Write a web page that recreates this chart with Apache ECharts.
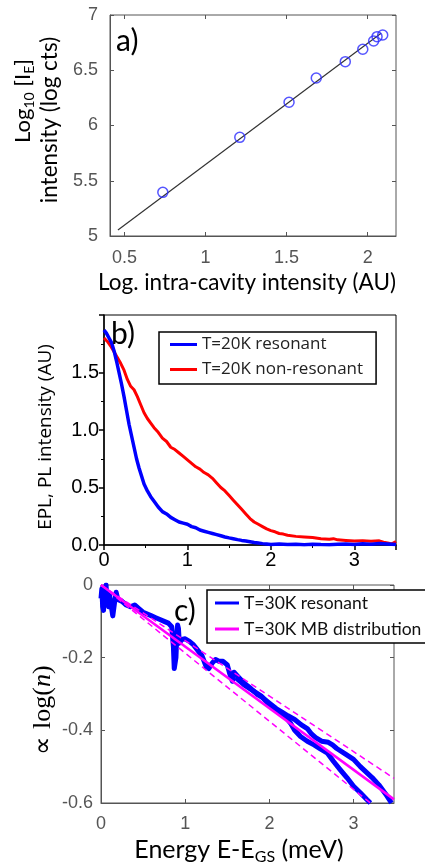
<!DOCTYPE html>
<html><head><meta charset="utf-8">
<script src="https://cdn.jsdelivr.net/npm/echarts@6/dist/echarts.min.js"></script>
<style>html,body{margin:0;padding:0;background:#fff}#c{width:425px;height:863px}</style>
</head><body><div id="c"></div>
<script>
// ---- Panel a data ----
const aX = [0.736, 1.211, 1.515, 1.683, 1.862, 1.970, 2.037, 2.058, 2.093];
const aY = [5.395, 5.893, 6.21, 6.43, 6.578, 6.69, 6.765, 6.804, 6.819];
const aFitX = [0.459, 2.083];
const aFitY = [5.054, 6.834];
const aXTicks = [0.5, 1, 1.5, 2];

// ---- Panel b data ----
const bBlueX = [0,0.03,0.06,0.09,0.12,0.15,0.18,0.21,0.24,0.27,0.3,0.33,0.36,0.39,0.42,0.45,0.48,0.52,0.56,0.6,0.65,0.7,0.75,0.8,0.85,0.9,0.95,1.0,1.05,1.1,1.15,1.2,1.25,1.3,1.35,1.4,1.45,1.5,1.55,1.6,1.65,1.7,1.75,1.8,1.85,1.9,1.95,2.0,2.1,2.2,2.3,2.4,2.5,2.6,2.7,2.8,2.9,3.0,3.1,3.2,3.3,3.4,3.5];
const bBlueY = [1.87,1.84,1.8,1.76,1.69,1.6,1.5,1.4,1.29,1.17,1.05,0.95,0.85,0.75,0.67,0.6,0.53,0.47,0.42,0.38,0.33,0.29,0.27,0.24,0.22,0.2,0.19,0.18,0.16,0.15,0.13,0.12,0.11,0.1,0.09,0.08,0.07,0.062,0.055,0.047,0.04,0.035,0.029,0.022,0.017,0.012,0.009,0.005,0.008,0.004,0.007,0.003,0.006,0.004,0.003,0.006,0.008,0.005,0.01,0.007,0.012,0.008,0.004];
const bRedX = [0,0.04,0.08,0.12,0.16,0.2,0.24,0.28,0.32,0.36,0.4,0.44,0.48,0.52,0.56,0.6,0.65,0.7,0.75,0.8,0.85,0.9,0.95,1.0,1.05,1.1,1.15,1.2,1.25,1.3,1.35,1.4,1.45,1.5,1.55,1.6,1.65,1.7,1.75,1.8,1.85,1.9,1.95,2.0,2.05,2.1,2.15,2.2,2.3,2.4,2.5,2.6,2.7,2.75,2.8,2.9,3.0,3.1,3.2,3.3,3.35,3.4,3.45,3.5];
const bRedY = [1.8,1.77,1.73,1.68,1.63,1.58,1.52,1.44,1.38,1.35,1.29,1.22,1.15,1.1,1.06,1.02,0.98,0.93,0.9,0.85,0.83,0.8,0.77,0.74,0.71,0.68,0.66,0.63,0.61,0.58,0.54,0.5,0.47,0.43,0.39,0.35,0.31,0.27,0.23,0.2,0.18,0.16,0.14,0.125,0.115,0.1,0.095,0.085,0.075,0.07,0.065,0.055,0.05,0.055,0.045,0.04,0.035,0.038,0.032,0.036,0.025,0.018,0.01,0.03];

// ---- Panel c data ----
const cBlue1X = [0,0.01,0.02,0.03,0.04,0.06,0.07,0.09,0.1,0.12,0.14,0.15,0.16,0.18,0.2,0.25,0.3,0.35,0.4,0.45,0.5,0.55,0.6,0.65,0.7,0.75,0.8,0.84,0.86,0.87,0.88,0.89,0.9,0.91,0.92,0.93,0.96,1.0,1.05,1.1,1.15,1.2,1.25,1.28,1.32,1.36,1.4,1.45,1.5,1.53,1.56,1.58,1.62,1.7,1.78,1.85,1.92,2.0,2.08,2.15,2.22,2.3,2.38,2.45,2.5,2.55,2.62,2.7,2.75,2.8,2.9,3.0,3.08,3.15,3.22,3.3,3.38,3.45];
const cBlue1Y = [-0.037,-0.01,-0.06,-0.07,-0.02,0,-0.04,-0.06,-0.025,-0.03,-0.085,-0.09,-0.05,-0.02,-0.04,-0.045,-0.055,-0.06,-0.055,-0.065,-0.075,-0.08,-0.085,-0.09,-0.095,-0.1,-0.105,-0.115,-0.17,-0.23,-0.235,-0.2,-0.14,-0.11,-0.12,-0.16,-0.15,-0.148,-0.155,-0.165,-0.18,-0.195,-0.225,-0.23,-0.215,-0.205,-0.21,-0.21,-0.22,-0.245,-0.265,-0.24,-0.25,-0.27,-0.285,-0.3,-0.31,-0.325,-0.34,-0.35,-0.36,-0.37,-0.385,-0.395,-0.41,-0.42,-0.43,-0.433,-0.44,-0.45,-0.465,-0.48,-0.5,-0.515,-0.53,-0.55,-0.575,-0.6];
const cBlue2X = [1.6,1.7,1.8,1.9,2.0,2.1,2.18,2.25,2.3,2.37,2.45,2.53,2.6,2.69,2.76,2.84,2.92,3.0,3.08,3.16,3.2];
const cBlue2Y = [-0.255,-0.275,-0.29,-0.305,-0.33,-0.35,-0.36,-0.38,-0.4,-0.417,-0.43,-0.44,-0.45,-0.463,-0.485,-0.508,-0.53,-0.554,-0.572,-0.591,-0.6];
const cMBX = [0, 3.48];
const cMBY = [0, -0.59];
const cUpX = [0, 3.48];
const cUpY = [0, -0.532];
const cLoX = [0, 3.2];
const cLoY = [0, -0.6];
const cXTicks = [0, 1, 2, 3];

const pairs = (xs, ys) => xs.map((x, i) => [x, ys[i]]);

const gray = '#555';
const tickFont = 'Liberation Sans';

function matlabX(grid, min, max, ticks, pos, labels) {
  return {
    type: 'value', gridIndex: grid, min: min, max: max, position: pos,
    axisLine: { show: labels, onZero: false, lineStyle: { color: gray, width: 1 } },
    axisTick: { show: true, inside: true, length: 4, customValues: ticks, lineStyle: { color: gray } },
    axisLabel: { show: labels, customValues: ticks, margin: 12, fontSize: 18, color: gray, fontFamily: tickFont },
    splitLine: { show: false }
  };
}
function matlabY(grid, min, max, interval, pos, labels, margin) {
  return {
    type: 'value', gridIndex: grid, min: min, max: max, interval: interval, position: pos,
    axisLine: { show: labels, onZero: false, lineStyle: { color: gray, width: 1 } },
    axisTick: { show: true, inside: true, length: 4, lineStyle: { color: gray } },
    axisLabel: { show: labels, margin: margin, fontSize: 18, color: gray, fontFamily: tickFont },
    splitLine: { show: false }
  };
}

const xA0 = matlabX(0, 0.41, 2.175, aXTicks, 'bottom', true); xA0.axisLabel.margin = 13;
const xA1 = matlabX(0, 0.41, 2.175, aXTicks, 'top', false);
const yA0 = matlabY(0, 5, 7, 0.5, 'left', true, 12);
const yA1 = matlabY(0, 5, 7, 0.5, 'right', false, 12);

const xB = {
  type: 'value', gridIndex: 1, min: 0, max: 3.5, interval: 1, position: 'bottom',
  axisLine: { onZero: false, lineStyle: { color: '#000', width: 1.5 } },
  axisTick: { length: 5, lineStyle: { color: '#000', width: 1.5 } },
  minorTick: { show: true, splitNumber: 2, length: 3, lineStyle: { color: '#000', width: 1 } },
  axisLabel: { showMaxLabel: false, margin: 5, fontSize: 20, color: '#000', fontFamily: tickFont },
  splitLine: { show: false }, minorSplitLine: { show: false }
};
const yB = {
  type: 'value', gridIndex: 1, min: 0, max: 2, interval: 0.5, position: 'left',
  axisLine: { show: true, onZero: false, lineStyle: { color: '#000', width: 1.5 } },
  axisTick: { show: true, length: 5, lineStyle: { color: '#000', width: 1.5 } },
  minorTick: { show: true, splitNumber: 2, length: 3, lineStyle: { color: '#000', width: 1 } },
  axisLabel: { showMaxLabel: false, margin: 5, fontSize: 20, color: '#000', fontFamily: tickFont, formatter: v => v.toFixed(1) },
  splitLine: { show: false }, minorSplitLine: { show: false }
};

const xC0 = matlabX(2, 0, 3.48, cXTicks, 'bottom', true);
const xC1 = matlabX(2, 0, 3.48, cXTicks, 'top', false);
const yC0 = matlabY(2, -0.6, 0, 0.2, 'left', true, 8);
const yC1 = matlabY(2, -0.6, 0, 0.2, 'right', false, 8);

const calibri = 'Lato';

const option = {
  animation: false,
  backgroundColor: '#fff',
  grid: [
    { left: 110, top: 15, width: 286, height: 221, show: true, borderColor: gray, borderWidth: 1, backgroundColor: 'transparent' },
    { left: 104, top: 315, width: 292, height: 230, show: true, borderColor: '#000', borderWidth: 1, backgroundColor: 'transparent' },
    { left: 101, top: 585, width: 293, height: 218, show: true, borderColor: gray, borderWidth: 1, backgroundColor: 'transparent' }
  ],
  xAxis: [xA0, xA1, xB, xC0, xC1],
  yAxis: [yA0, yA1, yB, yC0, yC1],
  legend: [
    {
      data: ['T=20K resonant', 'T=20K non-resonant'],
      left: 159, top: 332, orient: 'vertical', icon: 'rect', itemWidth: 27, itemHeight: 3, itemGap: 8,
      padding: [4, 13, 6, 11], borderColor: '#000', borderWidth: 1.5, backgroundColor: '#fff',
      textStyle: { fontFamily: 'Open Sans', fontSize: 17, color: '#222' }
    },
    {
      data: ['T=30K resonant', 'T=30K MB distribution'],
      left: 207, top: 590, orient: 'vertical', icon: 'rect', itemWidth: 24, itemHeight: 3, itemGap: 8,
      padding: [4, 30, 5, 8], borderColor: '#000', borderWidth: 1.5, backgroundColor: '#fff',
      textStyle: { fontFamily: calibri, fontSize: 17.5, color: '#111' }
    }
  ],
  series: [
    { name: 'fit', type: 'line', xAxisIndex: 0, yAxisIndex: 0, data: pairs(aFitX, aFitY), symbol: 'none',
      lineStyle: { color: '#333', width: 1.2 }, itemStyle: { color: '#333' } },
    { name: 'data a', type: 'scatter', xAxisIndex: 0, yAxisIndex: 0, data: pairs(aX, aY), symbol: 'circle', symbolSize: 10,
      itemStyle: { color: 'rgba(0,0,0,0)', borderColor: '#2a2aff', borderWidth: 1.5 }, z: 4 },

    { name: 'T=20K non-resonant', type: 'line', xAxisIndex: 2, yAxisIndex: 2, data: pairs(bRedX, bRedY), symbol: 'none',
      lineStyle: { color: '#ff0000', width: 3 }, itemStyle: { color: '#ff0000' } },
    { name: 'T=20K resonant', type: 'line', xAxisIndex: 2, yAxisIndex: 2, data: pairs(bBlueX, bBlueY), symbol: 'none',
      lineStyle: { color: '#0000ff', width: 3.5 }, itemStyle: { color: '#0000ff' } },

    { name: 'T=30K resonant', type: 'line', xAxisIndex: 3, yAxisIndex: 3, data: pairs(cBlue1X, cBlue1Y), symbol: 'none',
      lineStyle: { color: '#0000ff', width: 5, join: 'round' }, itemStyle: { color: '#0000ff' } },
    { name: 'T=30K resonant', type: 'line', xAxisIndex: 3, yAxisIndex: 3, data: pairs(cBlue2X, cBlue2Y), symbol: 'none',
      lineStyle: { color: '#0000ff', width: 5, join: 'round' }, itemStyle: { color: '#0000ff' } },
    { name: 'MB upper', type: 'line', xAxisIndex: 3, yAxisIndex: 3, data: pairs(cUpX, cUpY), symbol: 'none',
      lineStyle: { color: '#ff00ff', width: 1.5, type: [6, 4] }, itemStyle: { color: '#ff00ff' } },
    { name: 'MB lower', type: 'line', xAxisIndex: 3, yAxisIndex: 3, data: pairs(cLoX, cLoY), symbol: 'none',
      lineStyle: { color: '#ff00ff', width: 1.5, type: [6, 4] }, itemStyle: { color: '#ff00ff' } },
    { name: 'T=30K MB distribution', type: 'line', xAxisIndex: 3, yAxisIndex: 3, data: pairs(cMBX, cMBY), symbol: 'none',
      lineStyle: { color: '#ff00ff', width: 2.5 }, itemStyle: { color: '#ff00ff' } }
  ],
  graphic: [
    { type: 'text', x: 116, y: 41, z: 10, style: { text: 'a)', fontFamily: calibri, fontSize: 30, fill: '#000', align: 'left', verticalAlign: 'middle' } },
    { type: 'text', x: 111, y: 334, z: 10, style: { text: 'b)', fontFamily: calibri, fontSize: 30, fill: '#000', align: 'left', verticalAlign: 'middle' } },
    { type: 'text', x: 174, y: 611, z: 10, style: { text: 'c)', fontFamily: calibri, fontSize: 30, fill: '#000', align: 'left', verticalAlign: 'middle' } },
    { type: 'text', x: 247, y: 283, style: { text: 'Log. intra-cavity intensity (AU)', fontFamily: calibri, fontSize: 22.5, fill: '#000', align: 'center', verticalAlign: 'middle' } },
    { type: 'text', x: 23, y: 101, rotation: Math.PI / 2, style: {
        text: '{m|Log}{s|10}{m| [I}{s|E}{m|]}', align: 'center', verticalAlign: 'middle',
        rich: { m: { fontFamily: calibri, fontSize: 22, lineHeight: 26, fill: '#000', color: '#000' },
                s: { fontFamily: calibri, fontSize: 14, lineHeight: 12, verticalAlign: 'bottom', fill: '#000', color: '#000' } } } },
    { type: 'text', x: 50, y: 120, rotation: Math.PI / 2, style: { text: 'intensity (log cts)', fontFamily: calibri, fontSize: 22.5, fill: '#000', align: 'center', verticalAlign: 'middle' } },
    { type: 'text', x: 46, y: 437, rotation: Math.PI / 2, style: { text: 'EPL, PL intensity (AU)', fontFamily: 'Open Sans', fontSize: 19, fill: '#000', align: 'center', verticalAlign: 'middle' } },
    { type: 'text', x: 43, y: 710, rotation: Math.PI / 2, style: {
        text: '{a|∝ }{b|log(}{i|n}{b|)}', align: 'center', verticalAlign: 'middle',
        rich: { a: { fontFamily: calibri, fontSize: 26, fill: '#000', color: '#000' },
                b: { fontFamily: 'Liberation Serif', fontSize: 26, fill: '#000', color: '#000' },
                i: { fontFamily: 'Liberation Serif', fontSize: 26, fontStyle: 'italic', fill: '#000', color: '#000' } } } },
    { type: 'text', x: 239, y: 850, style: {
        text: '{m|Energy E-E}{s|GS}{m| (meV)}', align: 'center', verticalAlign: 'middle',
        rich: { m: { fontFamily: calibri, fontSize: 25, lineHeight: 30, fill: '#000', color: '#000' },
                s: { fontFamily: calibri, fontSize: 16, lineHeight: 14, verticalAlign: 'bottom', fill: '#000', color: '#000' } } } }
  ]
};

const chart = echarts.init(document.getElementById('c'), null, { renderer: 'canvas' });
chart.setOption(option);
</script>
</body></html>
